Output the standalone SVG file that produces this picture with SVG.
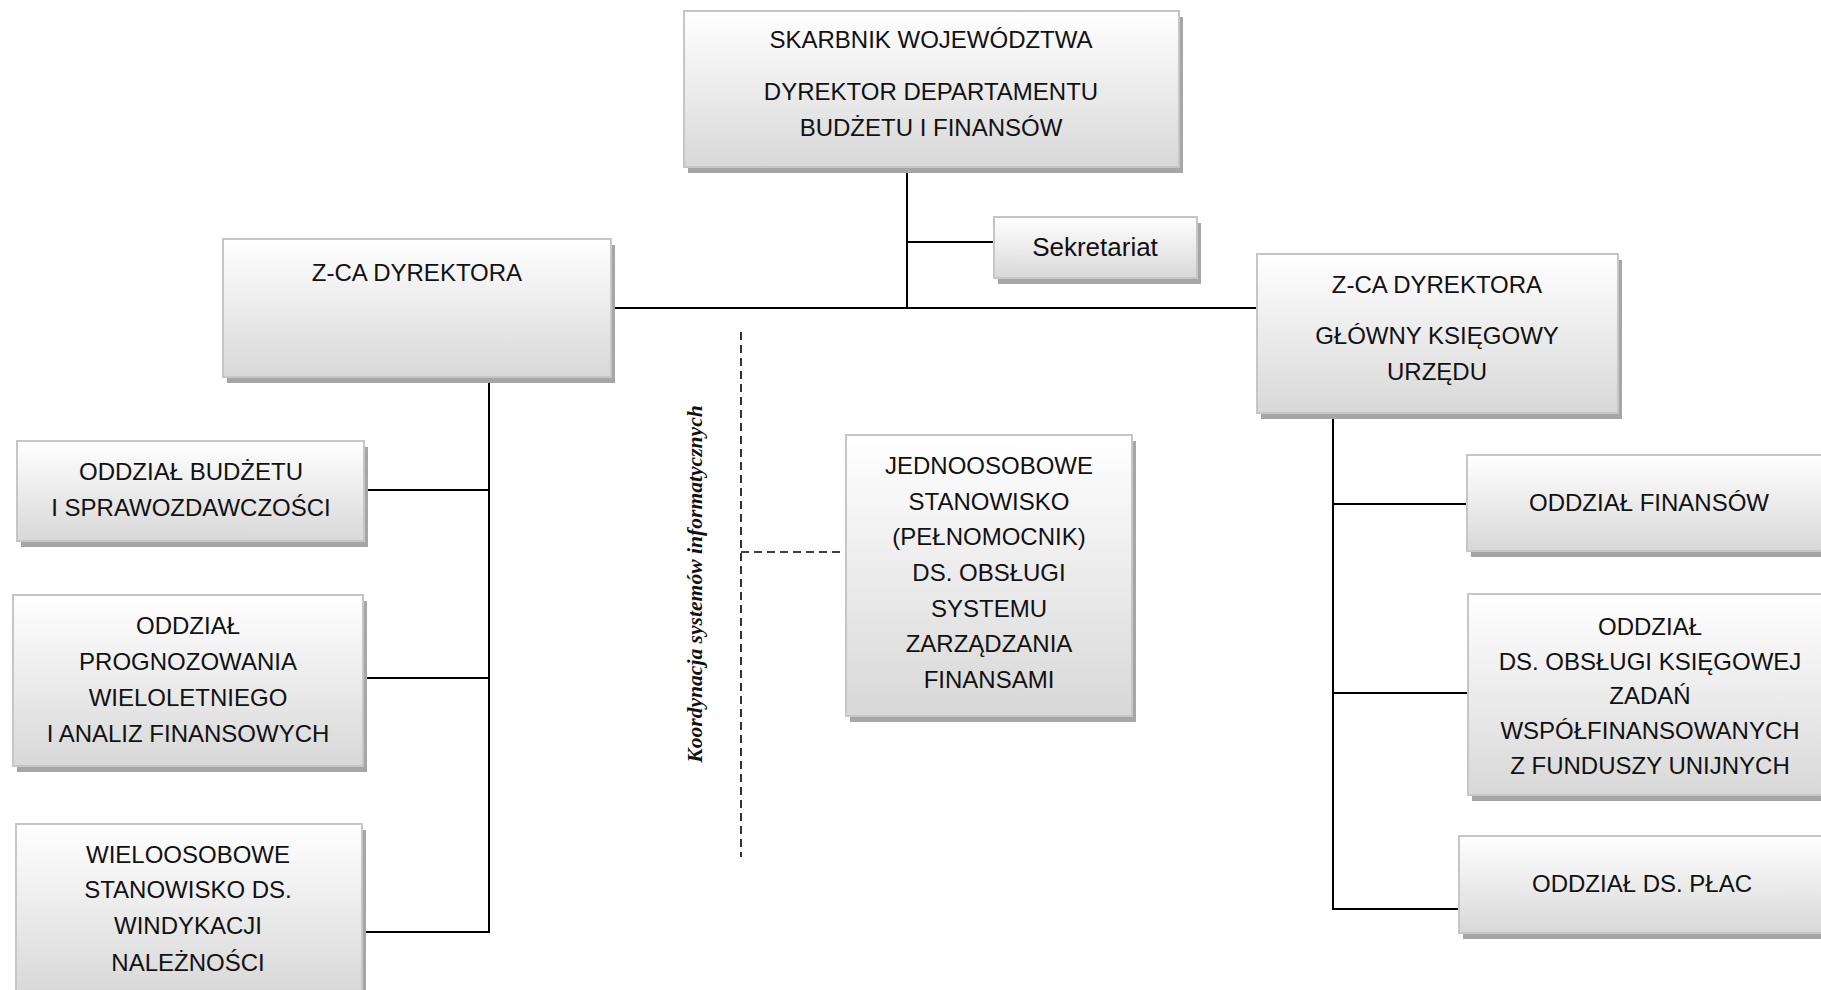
<svg xmlns="http://www.w3.org/2000/svg" width="1821" height="990" viewBox="0 0 1821 990">
<defs>
<linearGradient id="g" x1="0" y1="0" x2="0" y2="1">
<stop offset="0" stop-color="#ffffff"/>
<stop offset="1" stop-color="#d8d8d8"/>
</linearGradient>
<style>
.sh{fill:#a6a6a6;}
.bx{fill:url(#g);stroke:#c6c6c6;stroke-width:2;}
.t{font-family:"Liberation Sans",Arial,sans-serif;font-size:24px;fill:#111;text-anchor:middle;}
.big{font-size:26px;}
.ln{stroke:#000;stroke-width:2;fill:none;}
.dl{stroke:#000;stroke-width:1.6;fill:none;stroke-dasharray:8,5;}
.rt{font-family:"Liberation Serif","Times New Roman",serif;font-style:italic;font-weight:bold;font-size:21.6px;fill:#111;text-anchor:middle;}
</style>
</defs>
<rect width="1821" height="990" fill="#fff"/>

<g id="connectors">
<line class="ln" x1="907" y1="167" x2="907" y2="308"/>
<line class="ln" x1="907" y1="242" x2="994" y2="242"/>
<line class="ln" x1="611" y1="308" x2="1257" y2="308"/>
<polyline class="ln" points="489,378 489,932 362,932"/>
<line class="ln" x1="364" y1="490" x2="489" y2="490"/>
<line class="ln" x1="363" y1="678" x2="489" y2="678"/>
<polyline class="ln" points="1333,413 1333,909 1459,909"/>
<line class="ln" x1="1333" y1="504" x2="1467" y2="504"/>
<line class="ln" x1="1333" y1="693" x2="1468" y2="693"/>
<line class="dl" x1="741" y1="332" x2="741" y2="857"/>
<line class="dl" x1="741" y1="552" x2="846" y2="552"/>
</g>

<g id="skarbnik">
<rect class="sh" x="688" y="17" width="495" height="156"/>
<rect class="bx" x="684" y="11" width="495" height="156"/>
<text class="t" x="931" y="48">SKARBNIK WOJEWÓDZTWA</text>
<text class="t" x="931" y="100">DYREKTOR DEPARTAMENTU</text>
<text class="t" x="931" y="136">BUDŻETU I FINANSÓW</text>
</g>

<g id="sekretariat">
<rect class="sh" x="998" y="223" width="203" height="61"/>
<rect class="bx" x="994" y="217" width="203" height="61"/>
<text class="t big" x="1095" y="256">Sekretariat</text>
</g>

<g id="zca-left">
<rect class="sh" x="227" y="245" width="388" height="138"/>
<rect class="bx" x="223" y="239" width="388" height="138"/>
<text class="t" x="417" y="281">Z-CA DYREKTORA</text>
</g>

<g id="zca-right">
<rect class="sh" x="1261" y="260" width="361" height="159"/>
<rect class="bx" x="1257" y="254" width="361" height="159"/>
<text class="t" x="1437" y="293">Z-CA DYREKTORA</text>
<text class="t" x="1437" y="344">GŁÓWNY KSIĘGOWY</text>
<text class="t" x="1437" y="380">URZĘDU</text>
</g>

<g id="oddzial-budzetu">
<rect class="sh" x="21" y="447" width="347" height="100"/>
<rect class="bx" x="17" y="441" width="347" height="100"/>
<text class="t" x="191" y="480">ODDZIAŁ BUDŻETU</text>
<text class="t" x="191" y="516">I SPRAWOZDAWCZOŚCI</text>
</g>

<g id="oddzial-prognozowania">
<rect class="sh" x="17" y="601" width="350" height="171"/>
<rect class="bx" x="13" y="595" width="350" height="171"/>
<text class="t" x="188" y="634">ODDZIAŁ</text>
<text class="t" x="188" y="670">PROGNOZOWANIA</text>
<text class="t" x="188" y="706">WIELOLETNIEGO</text>
<text class="t" x="188" y="742">I ANALIZ FINANSOWYCH</text>
</g>

<g id="windykacja">
<rect class="sh" x="20" y="830" width="346" height="170"/>
<rect class="bx" x="16" y="824" width="346" height="170"/>
<text class="t" x="188" y="863">WIELOOSOBOWE</text>
<text class="t" x="188" y="898">STANOWISKO DS.</text>
<text class="t" x="188" y="934">WINDYKACJI</text>
<text class="t" x="188" y="971">NALEŻNOŚCI</text>
</g>

<g id="koordynacja">
<text class="rt" transform="translate(702,584) rotate(-90)">Koordynacja systemów informatycznych</text>
</g>

<g id="jednoosobowe">
<rect class="sh" x="850" y="441" width="286" height="281"/>
<rect class="bx" x="846" y="435" width="286" height="281"/>
<text class="t" x="989" y="474">JEDNOOSOBOWE</text>
<text class="t" x="989" y="510">STANOWISKO</text>
<text class="t" x="989" y="545">(PEŁNOMOCNIK)</text>
<text class="t" x="989" y="581">DS. OBSŁUGI</text>
<text class="t" x="989" y="617">SYSTEMU</text>
<text class="t" x="989" y="652">ZARZĄDZANIA</text>
<text class="t" x="989" y="688">FINANSAMI</text>
</g>

<g id="oddzial-finansow">
<rect class="sh" x="1471" y="461" width="364" height="96"/>
<rect class="bx" x="1467" y="455" width="364" height="96"/>
<text class="t" x="1649" y="511">ODDZIAŁ FINANSÓW</text>
</g>

<g id="oddzial-unijne">
<rect class="sh" x="1472" y="600" width="365" height="201"/>
<rect class="bx" x="1468" y="594" width="365" height="201"/>
<text class="t" x="1650" y="635">ODDZIAŁ</text>
<text class="t" x="1650" y="670">DS. OBSŁUGI KSIĘGOWEJ</text>
<text class="t" x="1650" y="704">ZADAŃ</text>
<text class="t" x="1650" y="739">WSPÓŁFINANSOWANYCH</text>
<text class="t" x="1650" y="774">Z FUNDUSZY UNIJNYCH</text>
</g>

<g id="oddzial-plac">
<rect class="sh" x="1463" y="842" width="366" height="97"/>
<rect class="bx" x="1459" y="836" width="366" height="97"/>
<text class="t" x="1642" y="892">ODDZIAŁ DS. PŁAC</text>
</g>
</svg>
